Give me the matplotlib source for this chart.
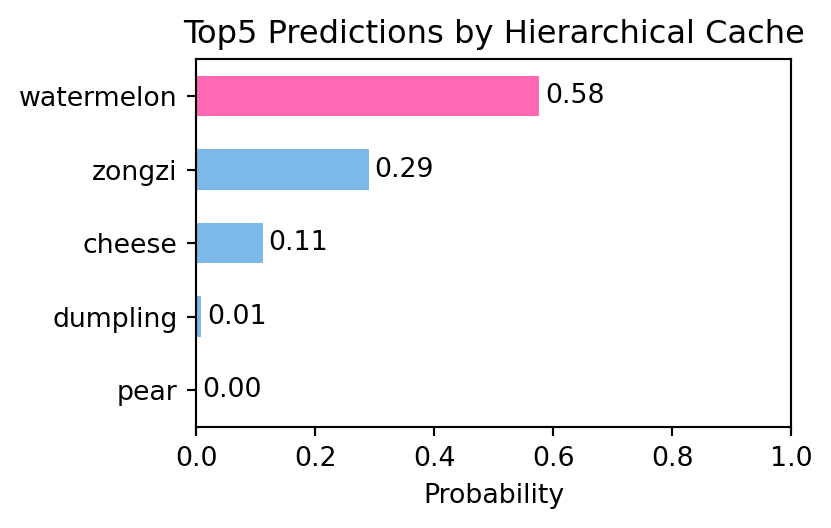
import matplotlib.pyplot as plt

labels = ["watermelon", "zongzi", "cheese", "dumpling", "pear"]
probs = [0.577, 0.290, 0.112, 0.009, 0.001]
colors = ["#ff69b4", "#7db9e8", "#7db9e8", "#7db9e8", "#7db9e8"]


def main():
    fig, ax = plt.subplots(figsize=(831 / 193, 528 / 193), dpi=193)
    fig.subplots_adjust(left=0.236, right=0.952, top=0.888, bottom=0.191)

    y = list(range(len(labels)))[::-1]
    ax.barh(y, probs, height=0.55, color=colors)
    for yi, p in zip(y, probs):
        ax.text(p + 0.01, yi, f"{p:.2f}", va="center", ha="left")

    ax.set_yticks(y)
    ax.set_yticklabels(labels)
    ax.set_xlim(0, 1)
    ax.set_xlabel("Probability")
    ax.set_title("Top5 Predictions by Hierarchical Cache")

    fig.savefig("out.png")
    plt.close(fig)


if __name__ == "__main__":
    main()
